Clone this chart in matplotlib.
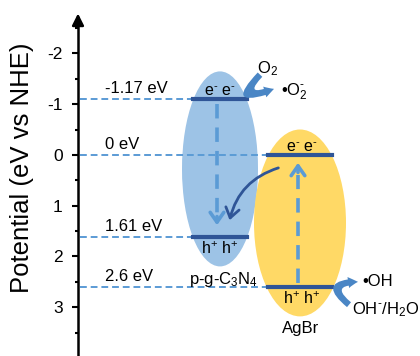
import matplotlib
matplotlib.use('Agg')
import matplotlib.pyplot as plt
from matplotlib.patches import Ellipse, FancyArrowPatch
from matplotlib.path import Path

plt.rcParams['font.family'] = ['Liberation Sans', 'DejaVu Sans']
plt.rcParams['mathtext.fontset'] = 'custom'
plt.rcParams['mathtext.rm'] = 'Liberation Sans'
plt.rcParams['mathtext.default'] = 'regular'

# band edge positions (eV vs NHE) as placed in the picture
cb_gcn = -1.1
vb_gcn = 1.61
cb_agbr = 0.0
vb_agbr = 2.6
level_values = [cb_gcn, cb_agbr, vb_gcn, vb_agbr]
level_labels = ['-1.17 eV', '0 eV', '1.61 eV', '2.6 eV']
level_ends = [193, 268, 193, 268]   # where each dashed guide stops (px-like x units)

yticks = [-2, -1, 0, 1, 2, 3]

blue_fill = '#9dc3e6'
yellow_fill = '#ffd966'
dark = '#2f5597'
mid = '#5b9bd5'

fig = plt.figure(figsize=(4.2, 3.56), dpi=100)
ax = fig.add_axes([0, 0, 1, 1])
ax.set_xlim(0, 420)
ax.set_ylim(3.96, -3.05)

# axis
for s in ['top', 'right', 'bottom']:
    ax.spines[s].set_visible(False)
ax.spines['left'].set_position(('data', 78))
ax.spines['left'].set_linewidth(1.8)
ax.spines['left'].set_bounds(-2.7, 3.96)
ax.set_xticks([])
ax.set_yticks(yticks)
ax.set_yticklabels([str(t) for t in yticks])
ax.set_yticks([t + 0.5 for t in range(-3, 4)], minor=True)
ax.tick_params(axis='y', which='major', direction='out', length=4, width=1.5,
               labelsize=12.5, pad=7)
ax.tick_params(axis='y', which='minor', direction='out', length=2.2, width=1.5)
ax.annotate('', xy=(78, -2.84), xytext=(78, -2.5),
            arrowprops=dict(arrowstyle='-|>,head_width=0.25,head_length=0.5',
                            color='black', lw=1.8, mutation_scale=14))
ax.text(22, 0.25, 'Potential (eV vs NHE)', rotation=90, ha='center', va='center',
        fontsize=18.5)

# semiconductor ellipses
ax.add_patch(Ellipse((220, 0.276), 76, 3.84, facecolor=blue_fill, edgecolor='none', zorder=1))
ax.add_patch(Ellipse((300, 1.34), 92, 3.68, facecolor=yellow_fill, edgecolor='none', zorder=2))

# dashed guides with energy labels
for v, lab, xe in zip(level_values, level_labels, level_ends):
    ax.plot([80, xe], [v, v], color=mid, lw=1.4, ls=(0, (3.5, 2)), zorder=1.5)
    ax.text(105, v - 0.2, lab, ha='left', va='center', fontsize=12)

# band edges
ax.plot([193, 247], [cb_gcn, cb_gcn], color=dark, lw=3, zorder=3)
ax.plot([193, 247], [vb_gcn, vb_gcn], color=dark, lw=3, zorder=3)
ax.plot([268, 332], [cb_agbr, cb_agbr], color=dark, lw=3, zorder=3)
ax.plot([268, 332], [vb_agbr, vb_agbr], color=dark, lw=3, zorder=3)

e_lab = 'e$^{\u2010}$ e$^{\u2010}$'
h_lab = 'h$^{+}$ h$^{+}$'
ax.text(220, cb_gcn - 0.15, e_lab, ha='center', va='center', fontsize=11.5, zorder=4)
ax.text(302, cb_agbr - 0.15, e_lab, ha='center', va='center', fontsize=11.5, zorder=4)
ax.text(220, vb_gcn + 0.23, h_lab, ha='center', va='center', fontsize=11.5, zorder=4)
ax.text(302, vb_agbr + 0.23, h_lab, ha='center', va='center', fontsize=11.5, zorder=4)
ax.text(223, 2.46, 'p-g-C$_3$N$_4$', ha='center', va='center', fontsize=12, zorder=4)
ax.text(301, 3.41, 'AgBr', ha='center', va='center', fontsize=12, zorder=4)

# excitation arrows (dashed)
ax.plot([217, 217], [cb_gcn + 0.1, vb_gcn - 0.45], color=mid, lw=2.6,
        ls=(0, (4, 2.5)), zorder=3)
ax.annotate('', xy=(217, vb_gcn - 0.17), xytext=(217, vb_gcn - 0.45),
            arrowprops=dict(arrowstyle='->,head_width=0.35,head_length=0.5',
                            color=mid, lw=2.6, mutation_scale=14), zorder=3)
ax.plot([298, 298], [vb_agbr - 0.08, cb_agbr + 0.4], color=mid, lw=2.6,
        ls=(0, (4, 2.5)), zorder=3)
ax.annotate('', xy=(298, cb_agbr + 0.1), xytext=(298, cb_agbr + 0.4),
            arrowprops=dict(arrowstyle='->,head_width=0.35,head_length=0.5',
                            color=mid, lw=2.6, mutation_scale=14), zorder=3)

# electron transfer AgBr CB -> g-C3N4 VB
ax.add_patch(FancyArrowPatch((281, 0.24), (229, 1.34),
                             connectionstyle='arc3,rad=0.3',
                             arrowstyle='->,head_width=0.35,head_length=0.5',
                             mutation_scale=14, color=dark, lw=2, zorder=4))

# radical generation arrows (hooked)
hook = 'simple,head_width=0.8,head_length=0.7,tail_width=0.45'
curve = [Path.MOVETO, Path.CURVE3, Path.CURVE3]
o2_path = Path([(260, -1.58), (232, -1.0), (274, -1.30)], curve)
oh_path = Path([(349, 2.95), (322, 2.51), (358, 2.50)], curve)
for p in [o2_path, oh_path]:
    ax.add_patch(FancyArrowPatch(path=p, arrowstyle=hook, mutation_scale=10,
                                 color='#4a86c5', lw=0, zorder=4))
ax.text(268, -1.69, 'O$_2$', ha='center', va='center', fontsize=12)
ax.text(294, -1.24, '•O$_2^{\u2010}$', ha='center', va='center', fontsize=12)
ax.text(378, 2.50, '•OH', ha='center', va='center', fontsize=12)
ax.text(386, 3.05, 'OH$^{\u2010}$/H$_2$O', ha='center', va='center', fontsize=12)

fig.savefig('out.png', dpi=100)
